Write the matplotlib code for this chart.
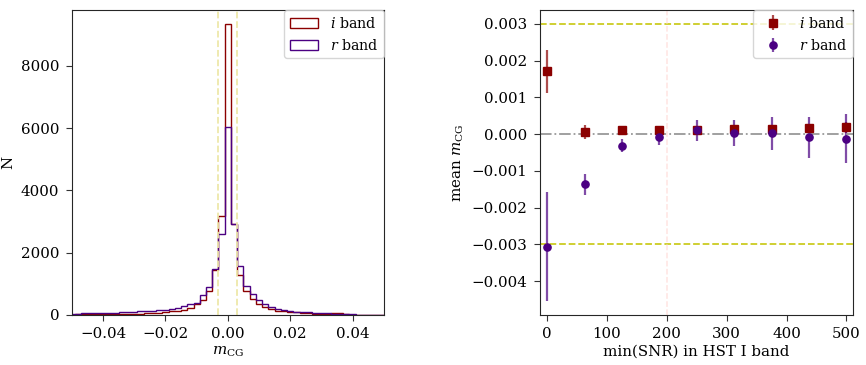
import matplotlib
matplotlib.use("Agg")
import matplotlib.pyplot as plt
import numpy as np

plt.rcParams['font.family'] = 'DejaVu Serif'
plt.rcParams['mathtext.fontset'] = 'dejavuserif'
plt.rcParams['font.size'] = 10.8

# histogram of m_CG (bin centres, counts)
bin_centres = np.round(np.arange(-0.050, 0.0501, 0.002), 3)
i_counts = [10, 30, 40, 40, 40, 35, 35, 30, 40, 40, 40, 45, 60, 70, 80, 110,
            120, 130, 160, 215, 355, 470, 760, 1460, 3190, 9330, 2920, 1290,
            760, 505, 345, 260, 205, 120, 120, 100, 90, 65, 55, 45, 40, 35,
            55, 55, 25, 15, 15, 10, 10, 10, 5]
r_counts = [20, 30, 50, 55, 60, 80, 80, 60, 90, 100, 110, 120, 130, 140, 150,
            160, 200, 240, 300, 340, 400, 640, 900, 1490, 2600, 6020, 2920,
            1580, 935, 665, 470, 345, 250, 195, 170, 120, 110, 100, 85, 60,
            55, 50, 40, 30, 25, 20, 15, 15, 10, 10, 10]

# mean m_CG vs min(SNR)
snr_min = [0, 62.5, 125, 187.5, 250, 312.5, 375, 437.5, 500]
i_mean = [0.00171, 0.00005, 0.0001, 0.0001, 0.0001, 0.00013, 0.00013, 0.00016, 0.00018]
i_err = [0.00058, 0.00019, 0.00005, 0.00005, 0.00008, 0.0001, 0.0001, 0.00012, 0.00015]
r_mean = [-0.00306, -0.00137, -0.00031, -0.00009, 0.0001, 0.00002, 0.00002, -0.00009, -0.00012]
r_err = [0.00148, 0.00028, 0.00017, 0.00021, 0.00028, 0.00035, 0.00045, 0.00056, 0.00067]

edges = np.append(bin_centres - 0.001, bin_centres[-1] + 0.001)

fig = plt.figure(figsize=(8.66, 3.65), dpi=100)
ax1 = fig.add_axes([0.0831, 0.137, 0.360, 0.836])
ax2 = fig.add_axes([0.6236, 0.137, 0.3614, 0.836])

for ax in (ax1, ax2):
    ax.tick_params(direction='out', length=4.5, pad=4.5, color='#333333')
    for s in ax.spines.values():
        s.set_color('#262626')

ax1.hist(bin_centres, bins=edges, weights=i_counts, histtype='step',
         color='#8b0000', lw=1.0, label='$i$ band')
ax1.hist(bin_centres, bins=edges, weights=r_counts, histtype='step',
         color='#4b0082', lw=1.0, label='$r$ band')
ax1.axvline(-0.003, color='#eee8aa', ls='--', lw=1.3)
ax1.axvline(0.003, color='#eee8aa', ls='--', lw=1.3)
ax1.set_xlim(-0.05, 0.05)
ax1.set_xticks([-0.04, -0.02, 0.0, 0.02, 0.04])
ax1.set_yticks([0, 2000, 4000, 6000, 8000])
ax1.set_xlabel(r'$m_{\rm CG}$', labelpad=2)
ax1.set_ylabel('N')
ax1.legend(loc='upper right', borderaxespad=0, fontsize=10.2)

ax2.errorbar(snr_min, i_mean, yerr=i_err, fmt='s', color='#8b0000', ms=5.2,
             ecolor=(0.545, 0, 0, 0.7), elinewidth=1.6, label='$i$ band')
ax2.errorbar(snr_min, r_mean, yerr=r_err, fmt='o', color='#4b0082', ms=5.2,
             ecolor=(0.294, 0, 0.51, 0.7), elinewidth=1.6, label='$r$ band')
ax2.axhline(0.003, color='#cccc22', ls='--', lw=1.3)
ax2.axhline(-0.003, color='#cccc22', ls='--', lw=1.3)
ax2.axhline(0.0, color='#999999', ls='-.', lw=1.3)
ax2.axvline(200, color='#ffe4e1', ls='--', lw=1.1)
ax2.set_xlim(-12, 511)
ax2.set_xticks([0, 100, 200, 300, 400, 500])
ax2.set_yticks([-0.004, -0.003, -0.002, -0.001, 0.0, 0.001, 0.002, 0.003])
ax2.set_xlabel('min(SNR) in HST I band', labelpad=2)
ax2.set_ylabel(r'mean $m_{\rm CG}$')
ax2.legend(loc='upper right', borderaxespad=0, fontsize=10.2)

fig.savefig('out.png', dpi=100)
